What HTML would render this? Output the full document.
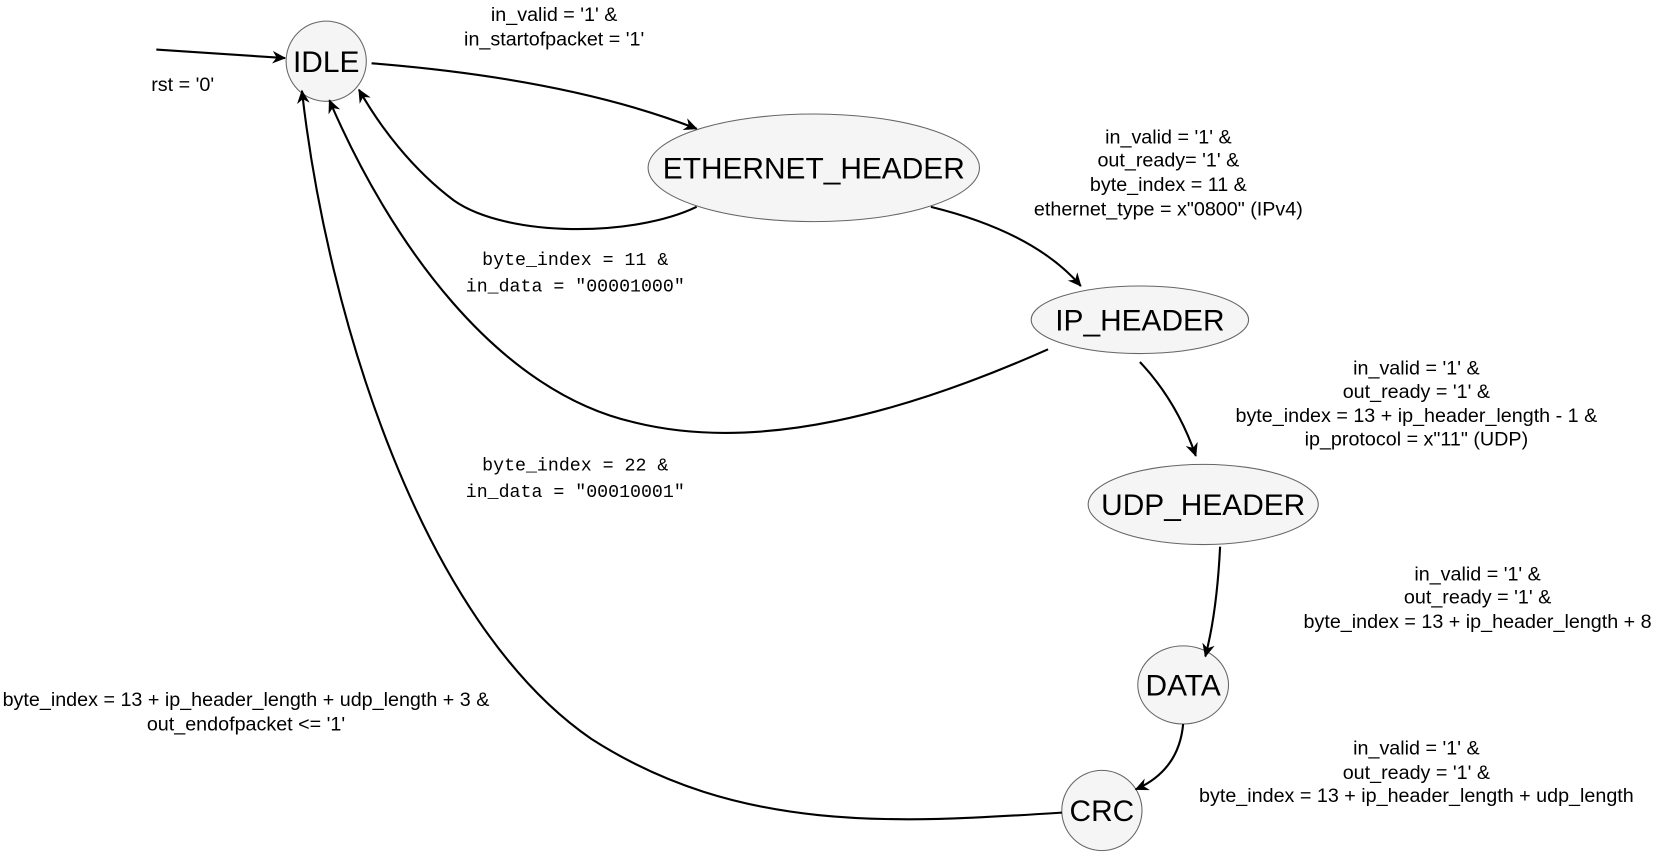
<!DOCTYPE html>
<html><head><meta charset="utf-8"><style>
html,body{margin:0;padding:0;background:#fff;}
svg{display:block;}
text{font-family:"Liberation Sans",Arial,sans-serif;font-size:18.7px;fill:#000;text-anchor:middle;}
.m{font-family:"Liberation Mono","DejaVu Sans Mono",monospace;font-size:17.3px;}
.n{font-size:28.3px;}
</style></head><body>
<svg width="1655" height="858" viewBox="0 0 1568 813" xmlns="http://www.w3.org/2000/svg">
<defs>
<marker id="a" markerWidth="14" markerHeight="12" refX="12" refY="6" orient="auto" markerUnits="userSpaceOnUse">
<path d="M0,0 L13,6 L0,12 L4,6 Z" fill="#000"/>
</marker>
</defs>
<g fill="#f5f5f5" stroke="#666" stroke-width="1">
<ellipse cx="309" cy="58" rx="38" ry="38"/>
<ellipse cx="771" cy="159" rx="157" ry="51"/>
<ellipse cx="1080" cy="303" rx="103" ry="32"/>
<ellipse cx="1140" cy="478" rx="109" ry="38"/>
<ellipse cx="1121" cy="649" rx="43" ry="37"/>
<ellipse cx="1044" cy="768" rx="38" ry="38"/>
</g>
<g fill="none" stroke="#000" stroke-width="2" marker-end="url(#a)">
<path d="M148,47 L270,55"/>
<path d="M352,60 Q540,75 660,122"/>
<path d="M660,196 C600,225 480,225 430,190 C390,160 360,120 340,85"/>
<path d="M993,331 C860,390 720,430 600,400 C470,370 370,230 312,95"/>
<path d="M1006,770 C850,780 700,790 560,700 C400,590 310,300 286,86"/>
<path d="M882,196 Q980,220 1024,271"/>
<path d="M1080,343 Q1115,380 1133,432"/>
<path d="M1156,518 Q1153,580 1142,622"/>
<path d="M1121,686 Q1117,730 1076,748"/>
</g>
<text class="n" x="309" y="68">IDLE</text>
<text class="n" x="771" y="169">ETHERNET_HEADER</text>
<text class="n" x="1080" y="313">IP_HEADER</text>
<text class="n" x="1140" y="488">UDP_HEADER</text>
<text class="n" x="1121" y="659">DATA</text>
<text class="n" x="1044" y="778">CRC</text>

<text x="525" y="20">in_valid = '1' &amp;</text>
<text x="525" y="43">in_startofpacket = '1'</text>
<text x="173" y="86">rst = '0'</text>
<text x="1107" y="136">in_valid = '1' &amp;</text>
<text x="1107" y="158">out_ready= '1' &amp;</text>
<text x="1107" y="181">byte_index = 11 &amp;</text>
<text x="1107" y="204">ethernet_type = x"0800" (IPv4)</text>
<text class="m" x="545" y="251">byte_index = 11 &amp;</text>
<text class="m" x="545" y="276">in_data = "00001000"</text>
<text x="1342" y="355">in_valid = '1' &amp;</text>
<text x="1342" y="377">out_ready = '1' &amp;</text>
<text x="1342" y="400">byte_index = 13 + ip_header_length - 1 &amp;</text>
<text x="1342" y="422">ip_protocol = x"11" (UDP)</text>
<text class="m" x="545" y="446">byte_index = 22 &amp;</text>
<text class="m" x="545" y="471">in_data = "00010001"</text>
<text x="1400" y="550">in_valid = '1' &amp;</text>
<text x="1400" y="572">out_ready = '1' &amp;</text>
<text x="1400" y="595">byte_index = 13 + ip_header_length + 8</text>
<text x="233" y="669">byte_index = 13 + ip_header_length + udp_length + 3 &amp;</text>
<text x="233" y="692">out_endofpacket &lt;= '1'</text>
<text x="1342" y="715">in_valid = '1' &amp;</text>
<text x="1342" y="738">out_ready = '1' &amp;</text>
<text x="1342" y="760">byte_index = 13 + ip_header_length + udp_length</text>
</svg>
</body></html>
